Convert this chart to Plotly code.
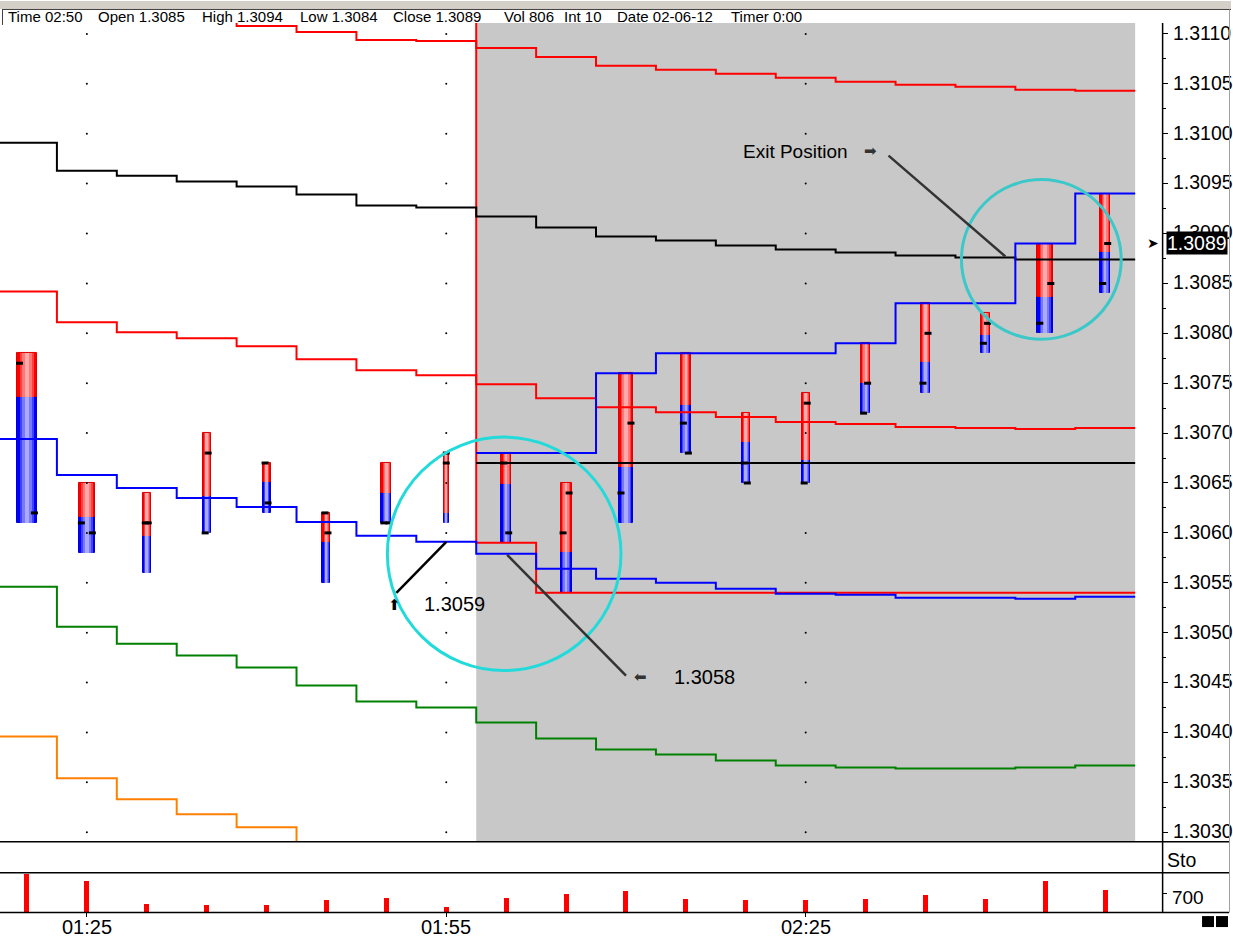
import plotly.graph_objects as go

# ---------------- data ----------------
times = ["01:20", "01:25", "01:30", "01:35", "01:40", "01:45", "01:50", "01:55",
         "02:00", "02:05", "02:10", "02:15", "02:20", "02:25", "02:30", "02:35",
         "02:40", "02:45", "02:50"]
time_labels = ["01:25", "01:55", "02:25"]

bar_high = [1.3078, 1.3065, 1.3064, 1.3070, 1.3067, 1.3062, 1.3067, 1.3068, 1.3068, 1.3065,
            1.3076, 1.3078, 1.3072, 1.3074, 1.3079, 1.3083, 1.3082, 1.3089, 1.3094]
bar_low = [1.3061, 1.3058, 1.3056, 1.3060, 1.3062, 1.3055, 1.3061, 1.3061, 1.3059, 1.3054,
           1.3061, 1.3068, 1.3065, 1.3065, 1.3072, 1.3074, 1.3078, 1.3080, 1.3084]
bar_split = [1.30736, 1.30616, 1.30597, 1.30637, 1.30651, 1.30591, 1.30640, 1.30620, 1.30649, 1.30581,
             1.30666, 1.30728, 1.30691, 1.30673, 1.30750, 1.30771, 1.30798, 1.30836, 1.30882]
bar_open = [1.3077, 1.3061, 1.3061, 1.3060, 1.3067, 1.3062, 1.3061, 1.3068, 1.3067, 1.3060,
            1.3064, 1.3071, 1.3067, 1.3065, 1.3072, 1.3075, 1.3079, 1.3081, 1.3085]
bar_close = [1.3062, 1.3060, 1.3061, 1.3068, 1.3063, 1.3060, 1.3061, 1.3067, 1.3060, 1.3064,
             1.3071, 1.3068, 1.3065, 1.3073, 1.3075, 1.3080, 1.3081, 1.3085, 1.3089]
volume = [1410, 1160, 310, 260, 260, 450, 520, 190, 520, 670, 790, 490, 450, 450, 490, 640, 490, 1160, 806]

upper_red = [None, None, None, 1.31115, 1.31108, 1.31102, 1.31094, 1.31093, 1.31086, 1.31077,
             1.31068, 1.31064, 1.31060, 1.31056, 1.31052, 1.31049, 1.31047, 1.31044, 1.31043]
vwap_black = [1.30991, 1.30963, 1.30958, 1.30952, 1.30947, 1.30939, 1.30928, 1.30926, 1.30917, 1.30906,
              1.30897, 1.30893, 1.30888, 1.30884, 1.30881, 1.30878, 1.30876, 1.30874, 1.30874]
mid_red = [1.30842, 1.30811, 1.30801, 1.30795, 1.30787, 1.30774, 1.30763, 1.30758, 1.30749, 1.30735,
           1.30726, 1.30721, 1.30716, 1.30711, 1.30709, 1.30706, 1.30705, 1.30704, 1.30705]
avg_blue = [1.30694, 1.30658, 1.30645, 1.30635, 1.30626, 1.30611, 1.30597, 1.30591, 1.30579, 1.30564,
            1.30554, 1.30550, 1.30544, 1.30539, 1.30538, 1.30535, 1.30535, 1.30534, 1.30536]
lower_green = [1.30546, 1.30506, 1.30489, 1.30477, 1.30465, 1.30447, 1.30431, 1.30425, 1.30410, 1.30394,
               1.30383, 1.30378, 1.30372, 1.30367, 1.30365, 1.30364, 1.30364, 1.30365, 1.30367]
lower_orange = [1.30396, 1.30354, 1.30333, 1.30318, 1.30305, 1.30285] + [None] * 13
session_high = [None] * 8 + [1.3068, 1.3068, 1.3076, 1.3078, 1.3078, 1.3078, 1.3079, 1.3083, 1.3083, 1.3089, 1.3094]
session_low = [None] * 7 + [1.3115, 1.3059] + [1.3054] * 10
session_open = [None] * 8 + [1.3067] * 11

price_ticks = [round(1.3030 + 0.0005 * k, 4) for k in range(17)]
vol_ticks = [700]
last_price = 1.3089

header_items = ["Time 02:50", "Open 1.3085", "High 1.3094", "Low 1.3084", "Close 1.3089",
                "Vol 806", "Int 10", "Date 02-06-12", "Timer 0:00"]

# ---------------- styling / layout constants ----------------
W, H = 1233, 952
bar_width_px = [20, 16, 8, 8, 8, 8, 10, 5, 10, 11, 15, 10, 8, 8, 9, 10, 9, 16, 10]
PX_PER_BAR = 60.0
header_x_px = [6, 96, 200, 298, 392, 503, 563, 616, 730]
FONT = "Liberation Sans, Arial, sans-serif"
SYM = "DejaVu Sans, sans-serif"

n = len(times)
idx = list(range(n))


def px_x(x):
    return x / W


def px_y(y):
    return 1 - y / H


def step(vals):
    xs, ys = [], []
    for i, v in enumerate(vals):
        xs += [i - 0.5, i + 0.5]
        ys += [v, v]
    return xs, ys


fig = go.Figure()

# step lines
line_specs = [
    (upper_red, "#ff0000"),
    (mid_red, "#ff0000"),
    (session_low, "#ff0000"),
    (vwap_black, "#000000"),
    (session_open, "#000000"),
    (lower_green, "#008000"),
    (lower_orange, "#ff8000"),
    (avg_blue, "#0000ff"),
    (session_high, "#0000ff"),
]
for vals, col in line_specs:
    xs, ys = step(vals)
    fig.add_trace(go.Scatter(x=xs, y=ys, mode="lines", line=dict(color=col, width=2),
                             hoverinfo="skip", showlegend=False, xaxis="x", yaxis="y"))

# grid dots at label intersections
label_pos = [times.index(t) for t in time_labels]
gx, gy = [], []
for xv in label_pos:
    for yv in price_ticks:
        gx.append(xv)
        gy.append(yv)
fig.add_trace(go.Scatter(x=gx, y=gy, mode="markers", marker=dict(size=2, color="black"),
                         hoverinfo="skip", showlegend=False, xaxis="x", yaxis="y"))

# split bars with a pseudo gradient
red_layers = [(1.0, "#ff0000"), (0.72, "#ff4040"), (0.48, "#ff7878"), (0.24, "#ffaaaa")]
blue_layers = [(1.0, "#0000ff"), (0.72, "#4040ff"), (0.48, "#7878ff"), (0.24, "#aaaaff")]
red_h = [h - s for h, s in zip(bar_high, bar_split)]
blue_h = [s - l for s, l in zip(bar_split, bar_low)]
for k, (f, col) in enumerate(blue_layers):
    fig.add_trace(go.Bar(x=idx, y=blue_h, base=bar_low,
                         width=[w * f / PX_PER_BAR for w in bar_width_px],
                         marker=dict(color=col, line=dict(width=1 if k == 0 else 0, color="#0000d0")),
                         hoverinfo="skip", showlegend=False, xaxis="x", yaxis="y"))
for k, (f, col) in enumerate(red_layers):
    fig.add_trace(go.Bar(x=idx, y=red_h, base=bar_split,
                         width=[w * f / PX_PER_BAR for w in bar_width_px],
                         marker=dict(color=col, line=dict(width=1 if k == 0 else 0, color="#e00000")),
                         hoverinfo="skip", showlegend=False, xaxis="x", yaxis="y"))

# open / close ticks
ox = [i - max(w / 2 - 2.5, 0) / PX_PER_BAR for i, w in zip(idx, bar_width_px)]
cx = [i + max(w / 2 - 2.5, 0) / PX_PER_BAR for i, w in zip(idx, bar_width_px)]
fig.add_trace(go.Scatter(x=ox + cx, y=bar_open + bar_close, mode="markers",
                         marker=dict(symbol="line-ew", size=5, line=dict(width=3, color="black")),
                         hoverinfo="skip", showlegend=False, xaxis="x", yaxis="y"))

# volume bars
fig.add_trace(go.Bar(x=idx, y=volume, width=5 / PX_PER_BAR, marker=dict(color="#ff0000", line=dict(width=0)),
                     hoverinfo="skip", showlegend=False, xaxis="x2", yaxis="y2"))

# ---------------- layout ----------------
x_dom = [0, 1164 / W]
x_range = [-27 / PX_PER_BAR, (1164 - 27) / PX_PER_BAR]
price_dom = [px_y(842), px_y(22)]
vol_dom = [px_y(913), px_y(873)]
p_top = 1.3110 + 11e-5
p_bot = 1.3110 - 809e-5

shapes = []
# session shading
shapes.append(dict(type="rect", xref="x", yref="paper", x0=7.5, x1=18.5,
                   y0=price_dom[0], y1=price_dom[1], fillcolor="#c8c8c8", line=dict(width=0), layer="below"))
# header strip
shapes.append(dict(type="rect", xref="paper", yref="paper", x0=0, x1=1, y0=px_y(8), y1=1,
                   fillcolor="#d4d0c8", line=dict(width=0), layer="below"))
shapes.append(dict(type="line", xref="paper", yref="paper", x0=px_x(2), x1=1, y0=px_y(8.5), y1=px_y(8.5),
                   line=dict(color="#404040", width=1)))
shapes.append(dict(type="line", xref="paper", yref="paper", x0=px_x(2.5), x1=px_x(2.5), y0=px_y(8.5), y1=px_y(24),
                   line=dict(color="#404040", width=1)))
# panel separators
for yy in (842.5, 873.5, 913.5):
    shapes.append(dict(type="line", xref="paper", yref="paper", x0=0, x1=px_x(1231), y0=px_y(yy), y1=px_y(yy),
                       line=dict(color="black", width=1.5)))
shapes.append(dict(type="line", xref="paper", yref="paper", x0=px_x(1164.5), x1=px_x(1164.5),
                   y0=px_y(913.5), y1=px_y(22), line=dict(color="black", width=1.5)))
shapes.append(dict(type="line", xref="paper", yref="paper", x0=px_x(1231.5), x1=px_x(1231.5),
                   y0=px_y(913.5), y1=px_y(8.5), line=dict(color="#a0a0a0", width=1)))
# circles
shapes.append(dict(type="circle", xref="paper", yref="paper", x0=px_x(388), x1=px_x(622),
                   y0=px_y(671), y1=px_y(437), line=dict(color="#22dada", width=3)))
shapes.append(dict(type="circle", xref="paper", yref="paper", x0=px_x(963), x1=px_x(1123),
                   y0=px_y(339), y1=px_y(179), line=dict(color="#3cc8c8", width=3)))
# pointer lines
shapes.append(dict(type="line", xref="paper", yref="paper", x0=px_x(447), y0=px_y(542), x1=px_x(397), y1=px_y(593),
                   line=dict(color="black", width=2.5)))
shapes.append(dict(type="line", xref="paper", yref="paper", x0=px_x(508), y0=px_y(555), x1=px_x(627), y1=px_y(676),
                   line=dict(color="#333333", width=2.5)))
shapes.append(dict(type="line", xref="paper", yref="paper", x0=px_x(890), y0=px_y(155), x1=px_x(1007), y1=px_y(256),
                   line=dict(color="#333333", width=2.5)))
# bottom-right squares
for x0 in (1204, 1218):
    shapes.append(dict(type="rect", xref="paper", yref="paper", x0=px_x(x0), x1=px_x(x0 + 12),
                       y0=px_y(928), y1=px_y(917), fillcolor="black", line=dict(width=0)))

annotations = []
for txt_, xp in zip(header_items, header_x_px):
    annotations.append(dict(text=txt_, xref="paper", yref="paper", x=px_x(xp), y=px_y(16),
                            xanchor="left", yanchor="middle", showarrow=False,
                            font=dict(family=FONT, size=15, color="black")))

# time-axis labels (placed under the tick marks)
for lbl, pos in zip(time_labels, label_pos):
    annotations.append(dict(text=lbl, xref="x2", yref="paper", x=pos, y=px_y(928),
                            xanchor="center", yanchor="middle", showarrow=False,
                            font=dict(family=FONT, size=20, color="black")))


def txt(t, x, y, size=20, color="black", family=FONT, xanchor="left", **kw):
    annotations.append(dict(text=t, xref="paper", yref="paper", x=px_x(x), y=px_y(y),
                            xanchor=xanchor, yanchor="middle", showarrow=False,
                            font=dict(family=family, size=size, color=color), **kw))


txt("1.3059", 423, 604)
txt("1.3058", 673, 677)
txt("Exit Position", 742, 151, size=19)
txt("⬆", 395, 605, size=15, family=SYM, xanchor="center")
txt("⬅", 642, 677, size=15, color="#333333", family=SYM, xanchor="center")
txt("➡", 872, 150, size=15, color="#333333", family=SYM, xanchor="center")
txt("Sto", 1167, 861, size=19.5)
txt("➤", 1155, 243, size=14, family=SYM, xanchor="center")
annotations.append(dict(text="%.4f" % last_price, xref="paper", yref="y", x=px_x(1168), y=last_price,
                        xanchor="left", yanchor="middle", showarrow=False, bgcolor="black", borderpad=0,
                        font=dict(family=FONT, size=19.5, color="white")))

fig.update_layout(
    width=W, height=H, autosize=False,
    margin=dict(l=0, r=0, t=0, b=0),
    paper_bgcolor="white", plot_bgcolor="white",
    barmode="overlay", bargap=0, showlegend=False,
    xaxis=dict(domain=x_dom, range=x_range, anchor="y", showticklabels=False, ticks="",
               showgrid=False, zeroline=False, showline=False, fixedrange=True),
    yaxis=dict(domain=price_dom, range=[p_bot, p_top], side="right", anchor="x",
               tickvals=price_ticks, ticktext=["%.4f" % v for v in price_ticks],
               ticks="outside", ticklen=5, tickcolor="black", tickwidth=1,
               minor=dict(dtick=0.00025, ticks="outside", ticklen=3, tickcolor="black", showgrid=False),
               ticklabelshift=-1, ticklabelstandoff=1,
               tickfont=dict(family=FONT, size=19.5, color="black"),
               showgrid=False, zeroline=False, showline=False, fixedrange=True),
    xaxis2=dict(domain=x_dom, range=x_range, anchor="y2", matches="x",
                tickvals=label_pos, showticklabels=False, ticks="outside", ticklen=4, tickcolor="black",
                showgrid=False, zeroline=False, showline=False, fixedrange=True),
    yaxis2=dict(domain=vol_dom, range=[0, 1497], side="right", anchor="x2",
                tickvals=vol_ticks, ticktext=[str(v) for v in vol_ticks],
                ticks="outside", ticklen=4, tickcolor="black", ticklabelshift=4, ticklabelstandoff=1,
                tickfont=dict(family=FONT, size=19, color="black"),
                showgrid=False, zeroline=False, showline=False, fixedrange=True),
    shapes=shapes,
    annotations=annotations,
)

fig.write_html("out.html", config={"displayModeBar": False},
               post_script="document.body.style.margin='0';document.body.style.padding='0';"
                           "document.body.style.overflow='hidden';")
